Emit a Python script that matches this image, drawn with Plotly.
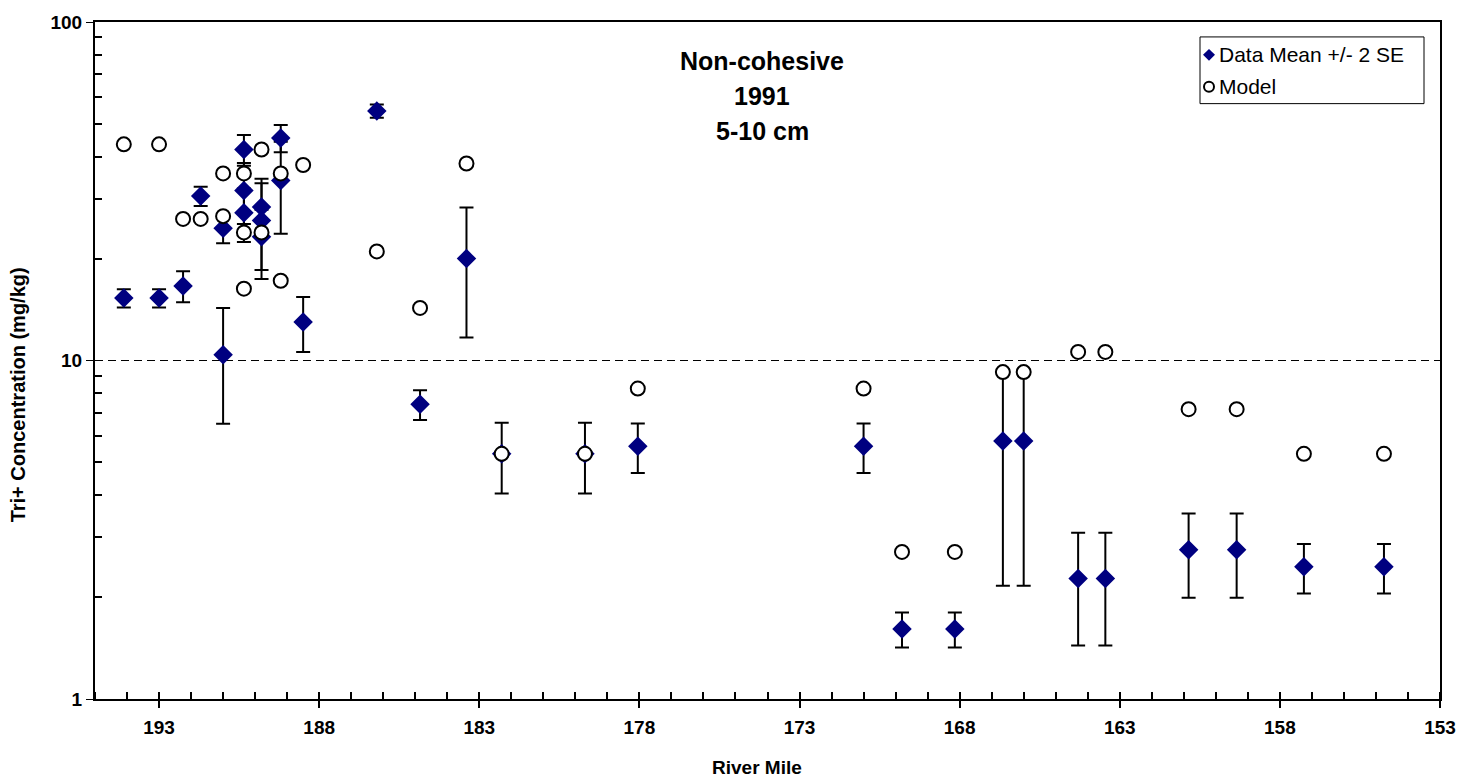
import plotly.graph_objects as go

# Sediment Tri+ PCB concentrations, non-cohesive sediment, 1991, 5-10 cm depth
data_mile = [194.1, 193.0, 192.25, 191.7, 191.0, 191.0, 190.35, 190.35, 190.35,
             189.8, 189.8, 189.8, 189.2, 189.2, 188.5, 186.2, 184.85, 183.4,
             182.3, 179.7, 178.05, 171.0, 169.8, 168.15, 166.65, 166.0, 164.3,
             163.45, 160.85, 159.35, 157.25, 154.75]
data_mean = [15.3, 15.3, 16.6, 30.6, 24.6, 10.4, 42.0, 31.8, 27.3,
             28.4, 25.9, 23.2, 45.4, 34.0, 13.0, 54.6, 7.42, 20.0,
             5.3, 5.3, 5.58, 5.58, 1.61, 1.61, 5.78, 5.78, 2.27,
             2.27, 2.76, 2.76, 2.46, 2.46]
data_2se = [0.95, 0.95, 1.75, 2.0, 2.4, 3.9, 4.4, 6.5, 4.9,
            5.0, 8.5, 4.7, 4.2, 10.3, 2.4, 2.45, 0.75, 8.3,
            1.25, 1.25, 0.93, 0.93, 0.19, 0.19, 3.62, 3.62, 0.83,
            0.83, 0.77, 0.77, 0.41, 0.41]

model_mile = [194.1, 193.0, 192.25, 191.7, 191.0, 191.0, 190.35, 190.35, 190.35,
              189.8, 189.8, 189.2, 189.2, 188.5, 186.2, 184.85, 183.4, 182.3,
              179.7, 178.05, 171.0, 169.8, 168.15, 166.65, 166.0, 164.3, 163.45,
              160.85, 159.35, 157.25, 154.75]
model_val = [43.5, 43.5, 26.2, 26.2, 35.7, 26.7, 35.7, 23.9, 16.3,
             42.0, 23.9, 35.7, 17.2, 37.8, 21.0, 14.3, 38.2, 5.3,
             5.3, 8.26, 8.26, 2.72, 2.72, 9.24, 9.24, 10.6, 10.6,
             7.18, 7.18, 5.3, 5.3]

x_ticks = [193, 188, 183, 178, 173, 168, 163, 158, 153]
y_ticks = [1, 10, 100]
y_minor = [2, 3, 4, 5, 6, 7, 8, 9, 20, 30, 40, 50, 60, 70, 80, 90]

title_lines = ["Non-cohesive", "1991", "5-10 cm"]
legend_labels = ["Data Mean +/- 2 SE", "Model"]

FONT = "Arial, Liberation Sans, sans-serif"
W, H = 1478, 782
ML, MR, MT, MB = 95, 38, 19, 83
PW, PH = W - ML - MR, H - MT - MB


def px(xp):
    """Pixel column -> paper x fraction."""
    return (xp - ML) / PW


def py(yp):
    """Pixel row (from top) -> paper y fraction."""
    return (H - MB - yp) / PH


fig = go.Figure()

fig.add_trace(go.Scatter(
    x=data_mile, y=data_mean, mode="markers", name=legend_labels[0],
    marker=dict(symbol="diamond", size=15, color="#000080", line=dict(width=0)),
    error_y=dict(type="data", array=data_2se, symmetric=True,
                 color="black", thickness=2, width=7),
))

fig.add_trace(go.Scatter(
    x=model_mile, y=model_val, mode="markers", name=legend_labels[1],
    marker=dict(symbol="circle", size=14, color="white",
                line=dict(color="black", width=2)),
))

# chart heading
for i, line in enumerate(title_lines):
    fig.add_annotation(text=f"<b>{line}</b>", x=px(762), y=py(58 + 35 * i),
                       xref="paper", yref="paper", xanchor="center", yanchor="middle",
                       showarrow=False, font=dict(family=FONT, size=25, color="black"))

# axis titles
fig.add_annotation(text="<b>River Mile</b>", x=px(757), y=py(768), xref="paper", yref="paper",
                   xanchor="center", yanchor="middle", showarrow=False,
                   font=dict(family=FONT, size=19, color="black"))
fig.add_annotation(text="<b>Tri+ Concentration (mg/kg)</b>", x=px(18), y=py(394),
                   xref="paper", yref="paper", xanchor="center", yanchor="middle",
                   textangle=-90, showarrow=False,
                   font=dict(family=FONT, size=20, color="black"))

# legend box with keys
shapes = [
    dict(type="rect", xref="paper", yref="paper", x0=px(1200), x1=px(1424),
         y0=py(101), y1=py(34), line=dict(color="black", width=1), fillcolor="white",
         layer="above"),
    dict(type="path", xref="paper", yref="paper",
         path=(f"M {px(1203)} {py(52)} L {px(1209)} {py(46)} L {px(1215)} {py(52)} "
               f"L {px(1209)} {py(58)} Z"),
         fillcolor="#000080", line=dict(width=0), layer="above"),
    dict(type="circle", xref="paper", yref="paper", x0=px(1204), x1=px(1214),
         y0=py(89), y1=py(79), line=dict(color="black", width=2), fillcolor="white",
         layer="above"),
]
for i, lab in enumerate(legend_labels):
    fig.add_annotation(text=lab, x=px(1217), y=py(52 + 32 * i), xref="paper", yref="paper",
                       xanchor="left", yanchor="middle", showarrow=False,
                       font=dict(family=FONT, size=21, color="black"))

fig.update_layout(
    width=W, height=H,
    margin=dict(l=ML, r=MR, t=MT, b=MB),
    paper_bgcolor="white", plot_bgcolor="white",
    font=dict(family=FONT, color="black"),
    showlegend=False,
    shapes=shapes,
    xaxis=dict(
        range=[195, 153], tickvals=x_ticks, ticktext=[f"<b>{v}</b>" for v in x_ticks],
        ticks="outside", ticklen=7, tickwidth=2, tickcolor="black",
        ticklabelstandoff=3,
        showline=True, linewidth=2, linecolor="black", mirror=True,
        showgrid=False, zeroline=False,
        tickfont=dict(family=FONT, size=19, color="black"),
        minor=dict(dtick=1, tick0=153, ticks="inside", ticklen=7, tickwidth=2,
                   tickcolor="black", showgrid=False),
    ),
    yaxis=dict(
        type="log", range=[0, 2], tickvals=y_ticks,
        ticktext=[f"<b>{v}</b>" for v in y_ticks],
        ticks="outside", ticklen=7, tickwidth=1, tickcolor="black",
        showline=True, linewidth=2, linecolor="black", mirror=True,
        showgrid=True, gridcolor="black", gridwidth=1, griddash="8px,5px",
        zeroline=False,
        tickfont=dict(family=FONT, size=19, color="black"),
        minor=dict(tickvals=y_minor, ticks="inside", ticklen=7, tickwidth=2,
                   tickcolor="black", showgrid=False),
    ),
)

fig.write_html("out.html")
